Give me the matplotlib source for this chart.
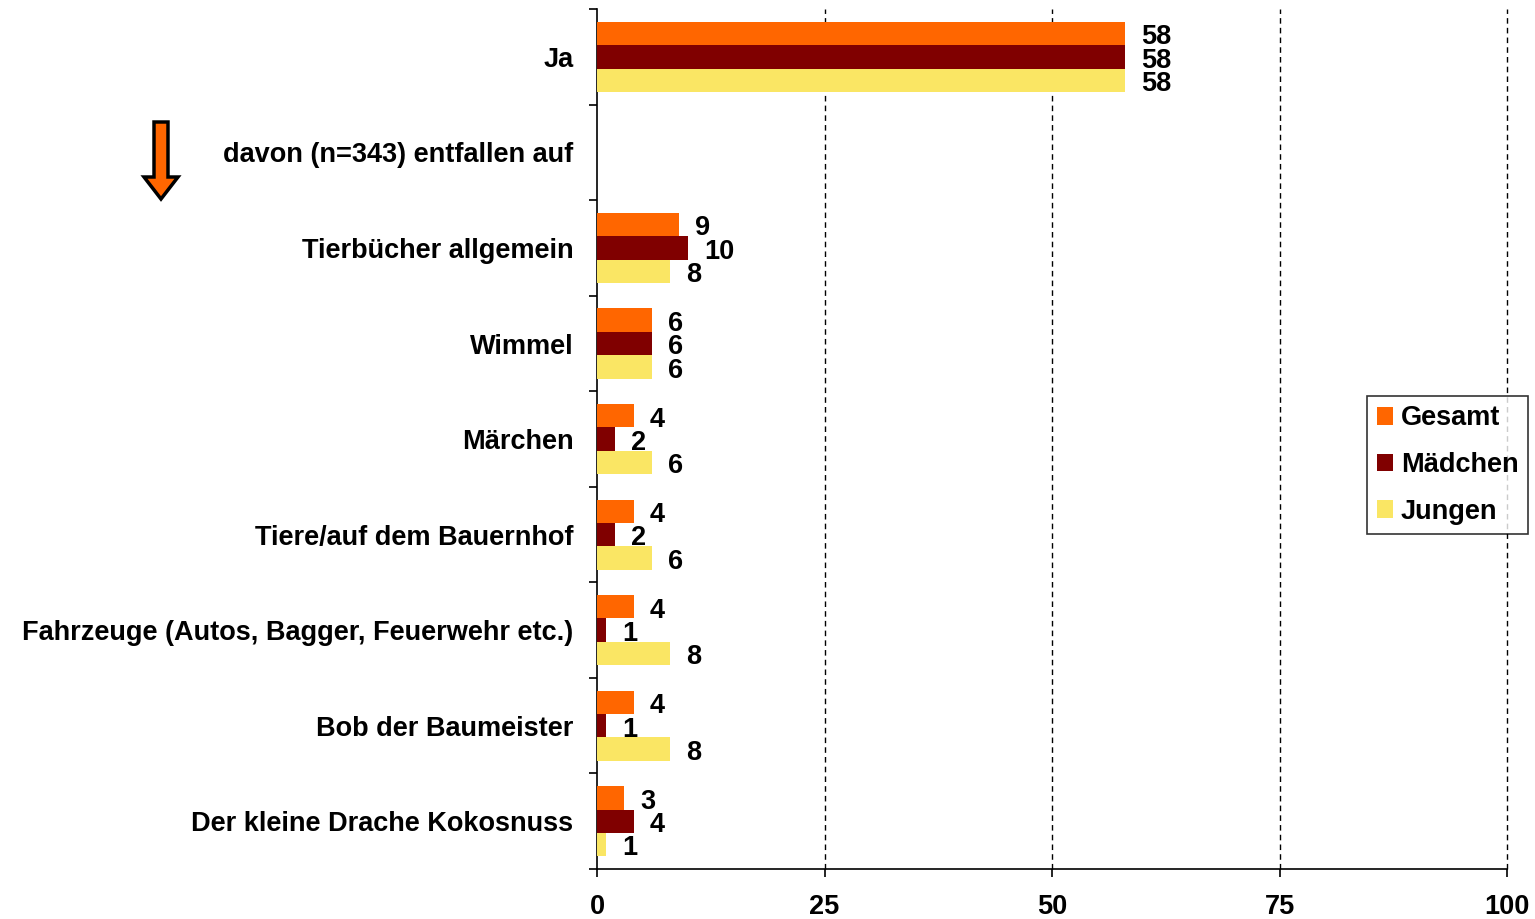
"""Horizontal grouped bars: Gesamt / Mädchen / Jungen."""
import matplotlib
matplotlib.use('Agg')
import matplotlib.pyplot as plt
import matplotlib.patches as mpatches
import numpy as np

plt.rcParams['font.family'] = ['Liberation Sans', 'DejaVu Sans']
plt.rcParams['font.weight'] = 'bold'

categories = ['Ja', 'davon (n=343) entfallen auf', 'Tierbücher allgemein', 'Wimmel',
              'Märchen', 'Tiere/auf dem Bauernhof',
              'Fahrzeuge (Autos, Bagger, Feuerwehr etc.)', 'Bob der Baumeister',
              'Der kleine Drache Kokosnuss']
gesamt = [58, None, 9, 6, 4, 4, 4, 4, 3]
maedchen = [58, None, 10, 6, 2, 2, 1, 1, 4]
jungen = [58, None, 8, 6, 6, 6, 8, 8, 1]
series_names = ['Gesamt', 'Mädchen', 'Jungen']
xticks = [0, 25, 50, 75, 100]

colors = ['#FF6600', '#800000', '#FAE664']

fig = plt.figure(figsize=(15.35, 9.19), dpi=100)
ax = fig.add_axes([0.389, 0.0544, 0.5928, 0.9356])

bh = 0.245
y = np.arange(len(categories))
for k, (vals, col, name) in enumerate(zip([gesamt, maedchen, jungen], colors, series_names)):
    idx = [i for i, v in enumerate(vals) if v is not None]
    v = [vals[i] for i in idx]
    yy = y[idx] + (k - 1) * bh
    ax.barh(yy, v, height=bh, color=col, edgecolor='none', label=name, zorder=3)
    for yi, vi in zip(yy, v):
        ax.text(vi + 1.75, yi + 0.04, str(vi), va='center', ha='left',
                fontsize=19.5, fontweight='bold', zorder=4)

ax.set_xlim(0, 100)
ax.set_ylim(len(categories) - 0.5, -0.5)
ax.set_xticks(xticks)
ax.set_xticklabels([str(t) for t in xticks], fontsize=19.5, fontweight='bold')
ax.set_yticks(y)
ax.set_yticklabels(categories, fontsize=19.5, fontweight='bold')
ax.tick_params(axis='y', which='major', length=0, pad=17)
ax.set_yticks(np.arange(-0.5, len(categories)), minor=True)
ax.tick_params(axis='y', which='minor', length=6, width=1.2, direction='out')
ax.tick_params(axis='x', length=6, width=1.2, direction='out', pad=12)

for s in ['top', 'right']:
    ax.spines[s].set_visible(False)
for s in ['left', 'bottom']:
    ax.spines[s].set_linewidth(1.2)

for t in xticks[1:]:
    ax.axvline(t, color='black', linestyle=(0, (4, 3)), linewidth=1, zorder=1,
               clip_on=False)

leg = ax.legend(loc='upper left', bbox_to_anchor=(0.8906, 0.5691),
                bbox_transform=fig.transFigure, fontsize=19.5,
                frameon=True, fancybox=False, edgecolor='black', handlelength=0.6,
                handleheight=0.6, handletextpad=0.3, labelspacing=0.76,
                borderpad=0.35, borderaxespad=0)
leg.get_frame().set_linewidth(1.2)

# Arrow next to the "davon" row
arrow = mpatches.FancyArrow(1.61, 7.97, 0, -0.55, width=0.14, head_width=0.34,
                            head_length=0.22, length_includes_head=False,
                            facecolor='#FF6600', edgecolor='black', linewidth=2.5,
                            transform=fig.dpi_scale_trans)
fig.patches.append(arrow)

plt.savefig('out.png', dpi=100)
plt.close()
